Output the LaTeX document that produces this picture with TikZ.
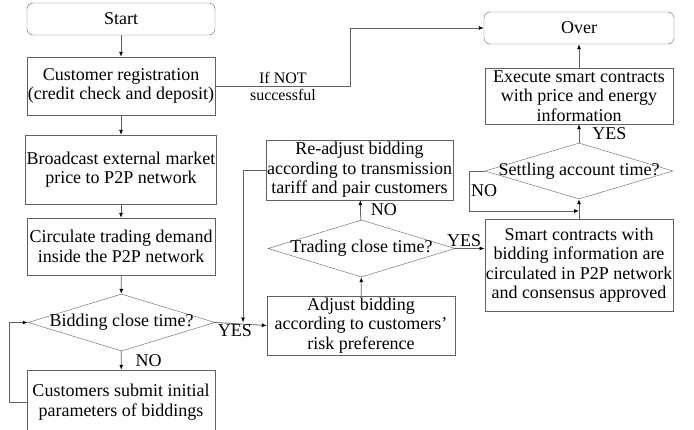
\documentclass[tikz,border=0pt]{standalone}
\usepackage{fontspec}
\setmainfont{Liberation Serif}
\usepackage{tikz}
\usetikzlibrary{shapes.geometric, positioning, arrows.meta}
\tikzset{
    >={Latex[black,length=5pt,width=4pt]},          % Small filled arrow heads
    link/.style={->, draw=black!62, line width=0.8pt},   % Gray connectors
    process/.style={rectangle, draw=black!62, minimum width=188pt, align=center, inner sep=1pt},  % Plain steps
    terminal/.style={process, rounded corners=6pt, minimum height=32pt},              % Start and end
    decision/.style={diamond, draw=black!62, minimum width=187pt, minimum height=57pt, inner sep=0pt}, % Questions
    note/.style={inner sep=1pt}                     % Labels on lines
}

\begin{document}
\begin{tikzpicture}[x=1pt, y=-1pt, font=\fontsize{18}{19.5}\selectfont]
            \useasboundingbox (0,0) rectangle (694,429);

            % left column
            \node [terminal] (start) at (121,19) {Start};
            \node [process, minimum height=58pt] (reg) at (121,86) {Customer registration\\(credit check and deposit)};
            \node [process, minimum height=69pt] (bcast) at (121,169.5) {Broadcast external market\\price to P2P network};
            \node [process, minimum height=57pt] (circ) at (121,246.5) {Circulate trading demand\\inside the P2P network};
            \node [decision, label=center:{Bidding close time?}] (bid) at (121.5,322.5) {};
            \node [process, minimum height=64pt] (submit) at (121,402) {Customers submit initial\\parameters of biddings};

            % middle column
            \node [process, minimum width=185pt, minimum height=60pt] (readj) at (359.5,170) {Re-adjust bidding\\according to transmission\\tariff and pair customers};
            \node [decision, label=center:{Trading close time?}] (trade) at (361.5,248.5) {};
            \node [process, minimum height=59pt] (adjust) at (361,325.5) {Adjust bidding\\according to customers'\\risk preference};

            % right column
            \node [terminal, minimum width=190pt] (over) at (579,28) {Over};
            \node [process, minimum height=56pt] (exec) at (579,96) {Execute smart contracts\\with price and energy\\information};
            \node [decision, minimum width=188pt, minimum height=56pt, label=center:{Settling account time?}] (settle) at (579,171) {};
            \node [process, minimum height=92pt] (smart) at (579,265) {Smart contracts with\\bidding information are\\circulated in P2P network\\and consensus approved};

            \coordinate (join) at (243,322.5);
            \coordinate (join2) at (579,211);

            \draw [link] (start) -- (reg);
            \draw [link] (reg) -- (bcast);
            \draw [link] (bcast) -- (circ);
            \draw [link] (circ) -- (bid);
            \draw [link] (bid) -- node [note, right, xshift=13pt] {NO} (submit);
            \draw [link] (submit.west) -- ++(-17,0) |- (bid.west);
            \draw [link] (bid.east) -- node [note, below, pos=0.38] {YES} (adjust.west);
            \draw [link] (readj.west) -| (join);
            \draw [link] (adjust) -- (trade);
            \draw [link] (trade) -- node [note, right, xshift=9pt] {NO} (readj);
            \draw [link] (trade.east) -- node [note, above, pos=0.3] {YES} (smart.west |- trade.east);
            \draw [link] (smart.north) -- (settle.south);
            \draw [link] (settle.west) -- ++(-15,0) |- node [note, pos=0.25, right] {NO} (join2);
            \draw [link] (settle) -- node [note, right, xshift=12pt] {YES} (exec);
            \draw [link] (exec) -- (over);
            \draw [link] (reg.east) -- node [note, align=center, font=\fontsize{16}{16}\selectfont] {If NOT\\[1pt]successful} ++(135,0) |- (over.west);
        \end{tikzpicture}
\end{document}
